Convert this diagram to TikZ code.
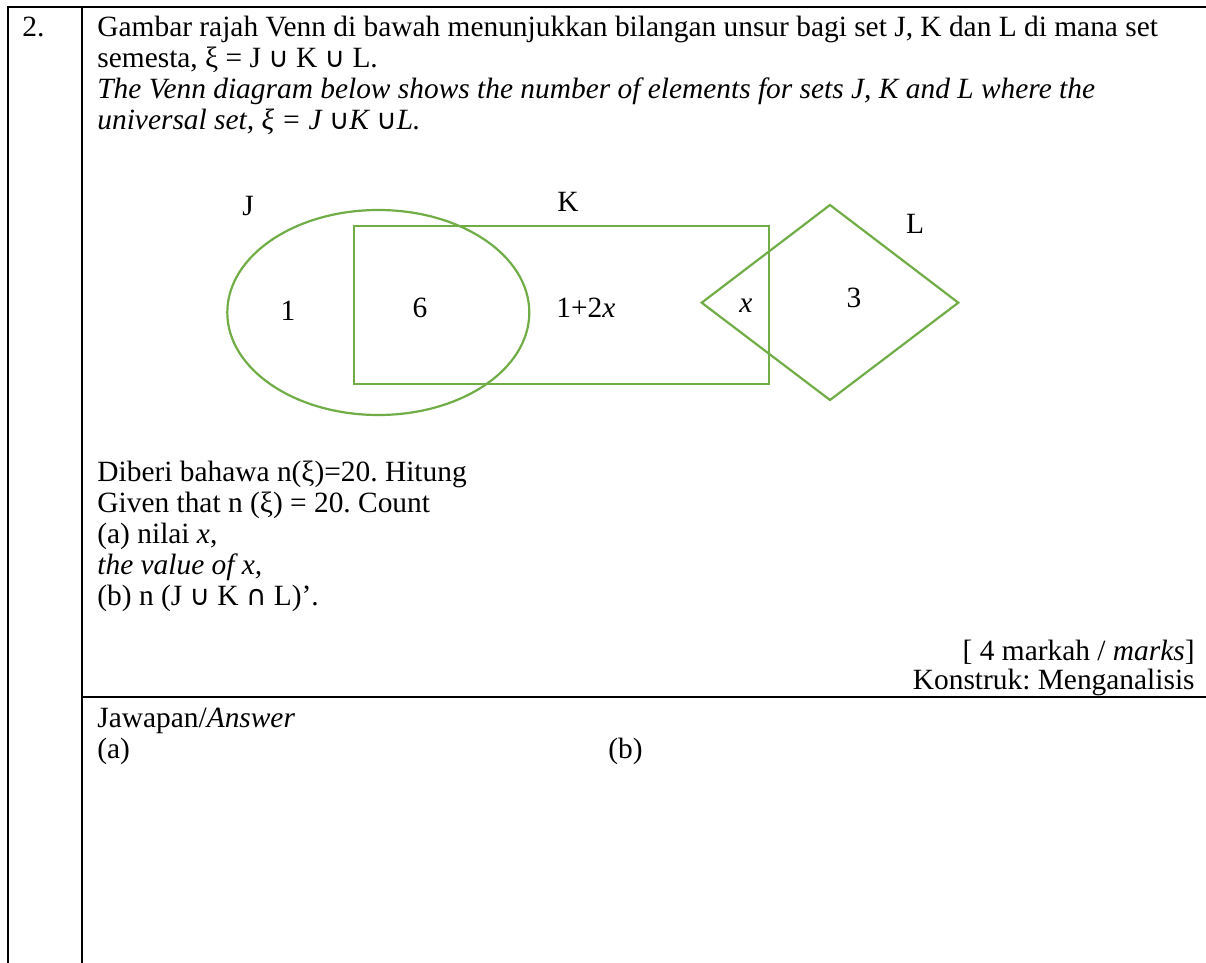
\documentclass[tikz,border=0pt]{standalone}
\usepackage{fontspec}
\setmainfont{Liberation Serif}
\newfontfamily\symfont[Scale=0.95]{DejaVu Sans}
\usetikzlibrary{positioning}
\definecolor{venngreen}{RGB}{112,173,71}
\newcommand{\ucup}{{\symfont ∪}}
\newcommand{\ucap}{{\symfont ∩}}
\frenchspacing

\begin{document}
\begin{tikzpicture}[x=0.5pt, y=-0.5pt,
    every node/.style={inner sep=0pt, font=\fontsize{14.7}{17}\selectfont},
    txt/.style={anchor=base west},
    rtxt/.style={anchor=base east},
    lbl/.style={anchor=base},
    rule/.style={line width=1.2pt},
    venn/.style={draw=venngreen, line width=1.1pt}]
    \useasboundingbox (0,0) rectangle (1206,963);

    % Table rules
    \draw[rule] (8,963) -- (8,7) -- (1206,7);
    \draw[rule] (82,7) -- (82,963);
    \draw[rule] (82,697) -- (1206,697);

    % Question
    \node[txt] (qnum) at (22,37) {2.};
    \node[txt] (qmy1) at (97,37) {Gambar rajah Venn di bawah menunjukkan bilangan unsur bagi set J, K dan L di mana set};
    \node[txt] (qmy2) at (97,68) {semesta, ξ = J \ucup{} K \ucup{} L.};
    \node[txt] (qen1) at (97,99) {\itshape The Venn diagram below shows the number of elements for sets J, K and L where the};
    \node[txt] (qen2) at (97,130) {\itshape universal set, ξ = J \ucup K \ucup L.};

    % Venn diagram: J ellipse, K rectangle, L diamond
    \draw[venn] (378.3,312.5) ellipse [x radius=75.5pt, y radius=51.25pt];
    \draw[venn] (354,225.7) rectangle (769,384);
    \draw[venn] (701.7,302.7) -- (830,205) -- (958.3,302.7) -- (830,400) -- cycle;

    % Set labels
    \node[lbl] (setJ) at (248,215) {J};
    \node[lbl] (setK) at (568,212) {K};
    \node[lbl] (setL) at (915,234) {L};

    % Region counts
    \node[lbl] (onlyJ) at (288,321) {1};
    \node[lbl] (JK) at (420,317) {6};
    \node[txt] (onlyK) at (556,317) {1+2\textit{x}};
    \node[lbl] (KL) at (746,312) {\textit{x}};
    \node[lbl] (onlyL) at (854,307) {3};

    % Given and tasks
    \node[txt] (given1) at (97,481) {Diberi bahawa n(ξ)=20. Hitung};
    \node[txt] (given2) at (97,512) {Given that n (ξ) = 20. Count};
    \node[txt] (parta1) at (97,543) {(a) nilai \textit{x},};
    \node[txt] (parta2) at (97,574) {\itshape the value of x,};
    \node[txt] (partb) at (97,605) {(b) n (J \ucup{} K \ucap{} L)’.};
    \node[rtxt] (marks) at (1195,660) {[ 4 markah / \textit{marks}]};
    \node[rtxt] (konstruk) at (1195,689) {Konstruk: Menganalisis};

    % Answer space
    \node[txt] (answer) at (97,727) {Jawapan/\textit{Answer}};
    \node[txt] (ansa) at (97,758) {(a)};
    \node[txt] (ansb) at (608,758) {(b)};
\end{tikzpicture}
\end{document}
